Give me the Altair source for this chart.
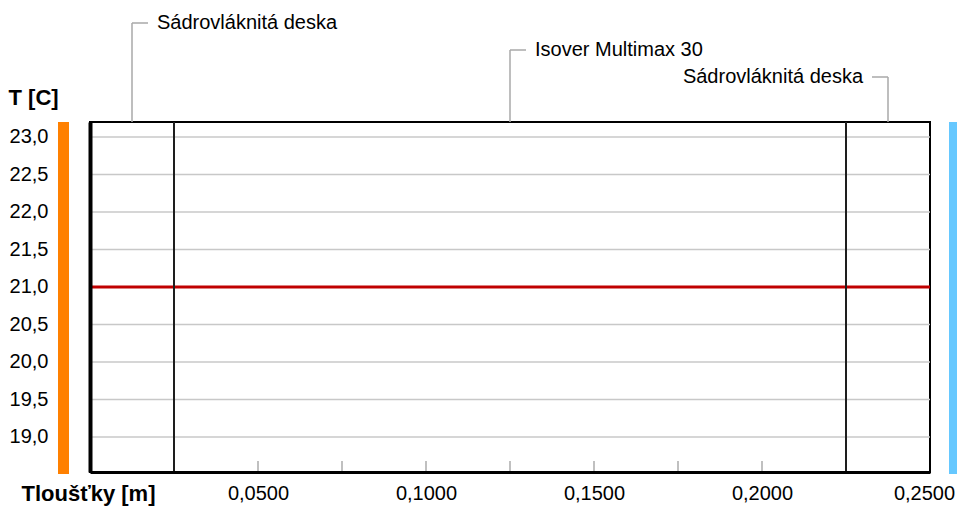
import altair as alt
import pandas as pd

# ---- data ----
layer_names = ["Sádrovláknitá deska", "Isover Multimax 30", "Sádrovláknitá deska"]
layer_start = [0.0, 0.025, 0.225]
layer_end = [0.025, 0.225, 0.25]
label_dir = [1, 1, -1]          # 1: label to the right of the leader, -1: to the left
label_level = [0, 1, 2]         # stacking level of the label above the plot

profile_x = [0.0, 0.025, 0.225, 0.25]
profile_t = [21.0, 21.0, 21.0, 21.0]

y_ticks = [19.0, 19.5, 20.0, 20.5, 21.0, 21.5, 22.0, 22.5, 23.0]
x_labels = [0.05, 0.10, 0.15, 0.20, 0.25]
minor_ticks = [0.05, 0.075, 0.10, 0.125, 0.15, 0.175, 0.20]

X_DOMAIN = [0.0, 0.25]
Y_DOMAIN = [18.533, 23.2]

# ---- layout / style ----
W, H = 840, 350
PX_PER_DEG = H / (Y_DOMAIN[1] - Y_DOMAIN[0])
PX_PER_M = W / (X_DOMAIN[1] - X_DOMAIN[0])
FONT = "Liberation Sans"

layers = pd.DataFrame({
    "name": layer_names, "start": layer_start, "end": layer_end,
    "dir": label_dir, "level": label_level,
})
profile = pd.DataFrame({"x": profile_x, "t": profile_t})
grid = pd.DataFrame({"t": y_ticks})
ticks = pd.DataFrame({"x": minor_ticks})
bounds = pd.DataFrame({"x": layer_end[:-1]})
sides = pd.DataFrame({"side": ["interior"]})

xs = alt.Scale(domain=X_DOMAIN, nice=False, zero=False)
ys = alt.Scale(domain=Y_DOMAIN, nice=False, zero=False)

x_axis = alt.Axis(
    values=x_labels,
    labelExpr="replace(format(datum.value, '.4f'), '.', ',')",
    grid=False, ticks=False, tickSize=0,
    domain=True, domainColor="black", domainWidth=3,
    labelFont=FONT, labelFontSize=20, labelColor="black",
    labelPadding=11, labelBaseline="top", labelFlush=False,
    labelOverlap=False,
    labelOffset={"condition": {"test": f"datum.value >= {X_DOMAIN[1]}", "value": -6}, "value": 0},
    title="Tloušťky [m]", titleFont=FONT, titleFontSize=22,
    titleFontWeight="bold", titleColor="black",
    titleX=-69, titleY=21, titleAlign="left", titleBaseline="middle",
    titleAnchor="start", zindex=2,
)
y_axis = alt.Axis(
    values=y_ticks,
    labelExpr="replace(format(datum.value, '.1f'), '.', ',')",
    grid=False, ticks=False, tickSize=0,
    domain=True, domainColor="black", domainWidth=4,
    labelFont=FONT, labelFontSize=20, labelColor="black",
    labelPadding=42, labelAlign="right", labelBaseline="middle",
    labelOverlap=False,
    title="T [C]", titleFont=FONT, titleFontSize=22,
    titleFontWeight="bold", titleColor="black", titleAngle=0,
    titleX=-82, titleY=-25, titleAlign="left", titleBaseline="middle",
    titleAnchor="start", zindex=2,
)


def X(field):
    return alt.X(field, type="quantitative", scale=xs, axis=x_axis)


def Y(field):
    return alt.Y(field, type="quantitative", scale=ys, axis=y_axis)


gridlines = alt.Chart(grid).mark_rule(color="#c8c8c8", strokeWidth=1.5).encode(
    y=Y("t"),
    x=alt.value(0), x2=alt.value(W),
)

red = alt.Chart(profile).mark_line(color="#c00000", strokeWidth=3).encode(
    x=X("x"),
    y=Y("t"),
)

tick_rules = alt.Chart(ticks).mark_rule(color="#c0c0c0", strokeWidth=2).encode(
    x=X("x"),
    y=alt.value(H - 11), y2=alt.value(H - 1),
)

bound_rules = alt.Chart(bounds).mark_rule(color="#1e1e1e", strokeWidth=2).encode(
    x=X("x"),
    y=alt.value(0), y2=alt.value(H),
)

orange = alt.Chart(sides).mark_rect(color="#ff8000").encode(
    x=alt.value(-32), x2=alt.value(-21), y=alt.value(0), y2=alt.value(H + 2),
)
blue = alt.Chart(sides).mark_rect(color="#66c8ff").encode(
    x=alt.value(859), x2=alt.value(870), y=alt.value(0), y2=alt.value(H + 2),
)

base = alt.Chart(layers).transform_calculate(
    mid="(datum.start + datum.end) / 2",
    ly=f"{Y_DOMAIN[1]} + (99 - 27 * datum.level) / {PX_PER_DEG}",
    top=f"{Y_DOMAIN[1]}",
).transform_calculate(
    seg=f"datum.mid + datum.dir * 16 / {PX_PER_M}",
)

leader_v = base.mark_rule(color="#a8a8a8", strokeWidth=1.5).encode(
    x=X("mid"),
    y=Y("ly"),
    y2="top:Q",
)
leader_h = base.mark_rule(color="#a8a8a8", strokeWidth=1.5).encode(
    x=X("mid"),
    x2="seg:Q",
    y=Y("ly"),
)
text_r = base.transform_filter("datum.dir > 0").mark_text(
    align="left", baseline="middle", dx=25, font=FONT, fontSize=20, color="black",
).encode(
    x=X("mid"),
    y=Y("ly"),
    text="name:N",
)
text_l = base.transform_filter("datum.dir < 0").mark_text(
    align="right", baseline="middle", dx=-25, font=FONT, fontSize=20, color="black",
).encode(
    x=X("mid"),
    y=Y("ly"),
    text="name:N",
)

chart = alt.layer(
    gridlines, red, tick_rules, bound_rules, orange, blue,
    leader_v, leader_h, text_r, text_l,
).properties(
    width=W, height=H,
    autosize=alt.AutoSizeParams(type="none"),
    padding={"left": 82, "top": 114, "right": 27, "bottom": 36},
    background="white",
).configure_view(
    stroke="black", strokeWidth=2,
)

chart.save("out.html", embed_options={"renderer": "svg", "actions": False})
